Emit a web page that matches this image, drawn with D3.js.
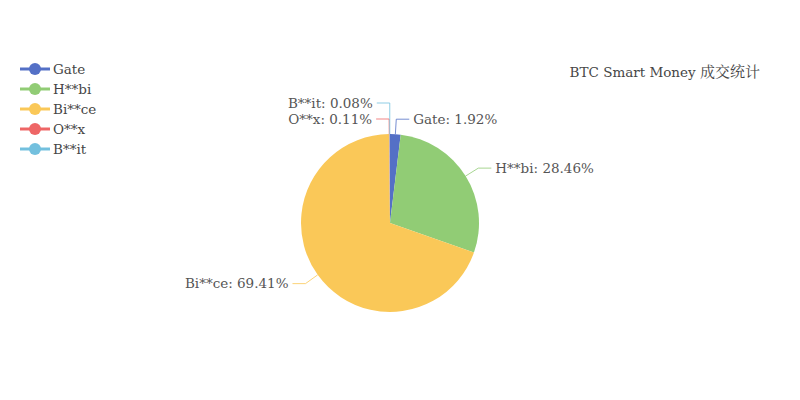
<!DOCTYPE html>
<html>
<head>
<meta charset="utf-8">
<script src="https://cdn.jsdelivr.net/npm/d3@7"></script>
<style>
html,body{margin:0;padding:0;background:#fff;}
svg{display:block;}
text{font-family:"DejaVu Serif","Liberation Serif","Noto Serif CJK SC","Noto Sans CJK SC",serif;}
</style>
</head>
<body>
<svg id="chart" width="800" height="400"></svg>
<script>
const categories = ["Gate", "H**bi", "Bi**ce", "O**x", "B**it"];
const values = [1.92, 28.46, 69.41, 0.11, 0.08];
const colors = ["#5470c6", "#91cc75", "#fac858", "#ee6666", "#73c0de"];
const titleLatin = "BTC Smart Money ";
const titleCJK = "成交统计";

const svg = d3.select("#chart");
const cx = 390, cy = 223, R = 89;
const len1 = 15, len2 = 13, gap = 4, lineH = 16;
const fs = 13.5;

const pie = d3.pie().sort(null).value(d => d.v);
const arcs = pie(categories.map((c, i) => ({c, v: values[i], i})));
const arc = d3.arc().innerRadius(0).outerRadius(R);
const color = d3.scaleOrdinal().domain(categories).range(colors);

const g = svg.append("g").attr("transform", `translate(${cx},${cy})`);
g.selectAll("path.slice").data(arcs).enter().append("path")
  .attr("d", arc).attr("fill", d => color(d.data.c));

const labels = arcs.map(d => {
  const a = (d.startAngle + d.endAngle) / 2;
  const s = Math.sin(a), c = Math.cos(a);
  return {
    d, a,
    p1: [R * s, -R * c],
    p2: [(R + len1) * s, -(R + len1) * c],
    right: s >= 0,
    text: `${d.data.c}: ${d.data.v.toFixed(2)}%`
  };
});
labels.forEach(l => { l.y = l.p2[1]; });
[true, false].forEach(side => {
  const ls = labels.filter(l => l.right === side).sort((a, b) => b.y - a.y);
  for (let i = 1; i < ls.length; i++) {
    if (ls[i].y > ls[i - 1].y - lineH) ls[i].y = ls[i - 1].y - lineH;
  }
});
labels.forEach(l => {
  if (Math.abs(l.y - l.p2[1]) > 0.5) {
    l.p2 = [l.p1[0], l.y];
  } else {
    l.p2 = [l.p2[0], l.y];
  }
  const dir = l.right ? 1 : -1;
  l.p3 = [l.p2[0] + dir * len2, l.y];
});

const line = d3.line();
g.selectAll("path.guide").data(labels).enter().append("path")
  .attr("d", l => line([l.p1, l.p2, l.p3]))
  .attr("fill", "none")
  .attr("stroke", l => color(l.d.data.c))
  .attr("stroke-opacity", 0.8)
  .attr("stroke-width", 1);

g.selectAll("text.lbl").data(labels).enter().append("text")
  .attr("x", l => l.p3[0] + (l.right ? gap : -gap))
  .attr("y", l => l.y)
  .attr("dy", "0.35em")
  .attr("text-anchor", l => l.right ? "start" : "end")
  .attr("font-size", fs)
  .attr("fill", "#555")
  .text(l => l.text);

const t = svg.append("text")
  .attr("x", 760).attr("y", 72).attr("dy", "0.35em")
  .attr("text-anchor", "end")
  .attr("font-size", fs)
  .attr("fill", "#464646");
t.append("tspan").text(titleLatin);
t.append("tspan").attr("font-size", 15).text(titleCJK);

const leg = svg.append("g").attr("transform", "translate(20,69)");
const item = leg.selectAll("g").data(categories).enter().append("g")
  .attr("transform", (d, i) => `translate(0,${i * 20})`);
item.append("line").attr("x1", 0).attr("x2", 30).attr("y1", 0).attr("y2", 0)
  .attr("stroke", d => color(d)).attr("stroke-width", 3);
item.append("circle").attr("cx", 15).attr("cy", 0).attr("r", 6)
  .attr("fill", d => color(d));
item.append("text").attr("x", 33).attr("y", 0).attr("dy", "0.35em")
  .attr("font-size", fs).attr("fill", "#464646").text(d => d);
</script>
</body>
</html>
